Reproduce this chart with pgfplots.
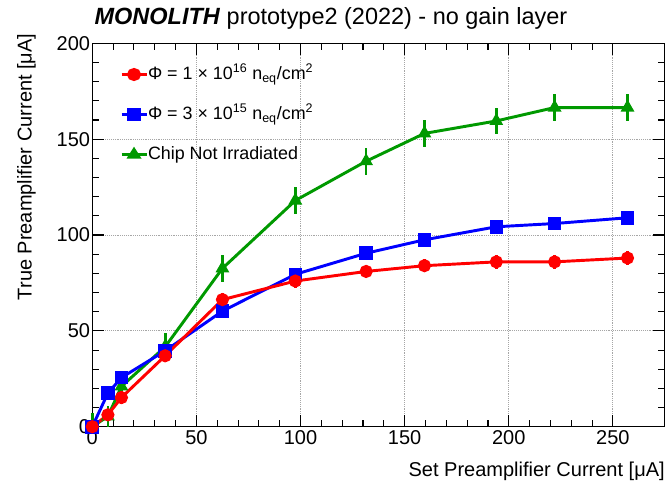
\documentclass[border=0pt]{standalone}
\usepackage{fontspec}
\setmainfont{Liberation Sans}
\usepackage{pgfplots}
\usepackage{pgfplotstable}
\pgfplotsset{compat=1.18}

\definecolor{rootred}{RGB}{255,0,0}
\definecolor{rootblue}{RGB}{0,0,255}
\definecolor{rootgreen}{RGB}{0,153,0}

% x  y  error plus  error minus
\pgfplotstableread{
x     y      ep   em
0     0      3    0
7.5   6.2    3    3
14    15.2   3.5  3.5
35    37     3.5  3.5
62.5  66.3   3.5  3.5
97.5  76     3.5  3.5
131.5 81     3.5  3.5
159.5 84     3.5  3.5
194   86     3.5  3.5
222   86     3.5  3.5
257   88     3.5  3.5
}\highflu

\pgfplotstableread{
x     y      ep   em
0     0      3    0
7.5   17.5   3    3
14    25.6   3.5  3.5
35    39.6   3.5  3.5
62.5  60.3   3.5  3.5
97.5  79.5   3.5  3.5
131.5 90.5   3.5  3.5
159.5 97.5   3.5  3.5
194   104.3  3.5  3.5
222   106    3.5  3.5
257   109    3.5  3.5
}\lowflu

\pgfplotstableread{
x     y      ep   em
0     0      7    0
7.5   5.4    5.5  5.4
14    21     6    6
35    41.7   7    7
62.5  82.6   7    7
97.5  118    7    7
131.5 138.5  7    7
159.5 153    7    7
194   159.5  7    7
222   166.5  7    7
257   166.5  7    7
}\notirr

\begin{document}
\begin{tikzpicture}
	\begin{axis}[
		name=main,
		at={(0,0)}, anchor=south west,
		width=429.5pt, height=287.5pt,
		scale only axis,
		clip=false,
		xmin=0, xmax=275,
		ymin=0, ymax=200,
		xtick={0,50,...,250},
		ytick={0,50,...,200},
		minor x tick num=4,
		minor y tick num=4,
		major tick length=9pt,
		minor tick length=5pt,
		tick align=inside,
		axis line style={line width=1pt},
		tick style={line width=0.8pt, black},
		grid=major,
		major grid style={densely dotted, gray!70, line width=0.7pt},
		/pgf/number format/assume math mode=true,
		ticklabel style={font=\fontsize{15}{18}\selectfont},
		xticklabel style={inner sep=2pt, yshift=-1pt},
		yticklabel style={inner sep=1.5pt},
		reverse legend,
		legend cell align=left,
		legend style={
			at={(0.048,0.942)}, anchor=north west,
			draw=none, fill=none, inner sep=0pt,
			row sep=17pt,
			font=\fontsize{13.4}{15}\selectfont,
			nodes={inner sep=0pt, text height=10pt, text depth=3pt},
		},
		legend image post style={xscale=1.1},
		every axis plot/.append style={line width=2.2pt},
		error bars/error bar style={line width=2pt},
		error bars/error mark=none,
	]

		\addplot[color=rootgreen, mark=triangle*, mark size=3.8pt,
			mark options={solid},
			error bars/.cd, y dir=both, y explicit]
			table[x=x, y=y, y error plus=ep, y error minus=em]{\notirr};
		\addlegendentry{Chip Not Irradiated}

		\addplot[color=rootblue, mark=square*, mark size=4pt,
			error bars/.cd, y dir=both, y explicit]
			table[x=x, y=y, y error plus=ep, y error minus=em]{\lowflu};
		\addlegendentry{Φ = 3 × 10\textsuperscript{15} n\textsubscript{eq}/cm\textsuperscript{2}}

		\addplot[color=rootred, mark=*, mark size=3.8pt,
			error bars/.cd, y dir=both, y explicit]
			table[x=x, y=y, y error plus=ep, y error minus=em]{\highflu};
		\addlegendentry{Φ = 1 × 10\textsuperscript{16} n\textsubscript{eq}/cm\textsuperscript{2}}

	\end{axis}

	% title and axis labels, ROOT style
	\node[anchor=base, font=\fontsize{17.6}{20}\selectfont] at (179pt,301.3pt)
		{\textbf{\textit{MONOLITH}} prototype2 (2022) - no gain layer};
	\node[anchor=base east, inner sep=0pt, font=\fontsize{15}{18}\selectfont]
		at (429.5pt,-37pt) {Set Preamplifier Current [μA]};
	\node[anchor=base east, rotate=90, inner sep=0pt, font=\fontsize{15}{18}\selectfont]
		at (-45.5pt,295pt) {True Preamplifier Current [μA]};

	\pgfresetboundingbox
	\path[use as bounding box] (-69.2pt,-47.5pt) rectangle (429.5pt,320pt);
\end{tikzpicture}
\end{document}
